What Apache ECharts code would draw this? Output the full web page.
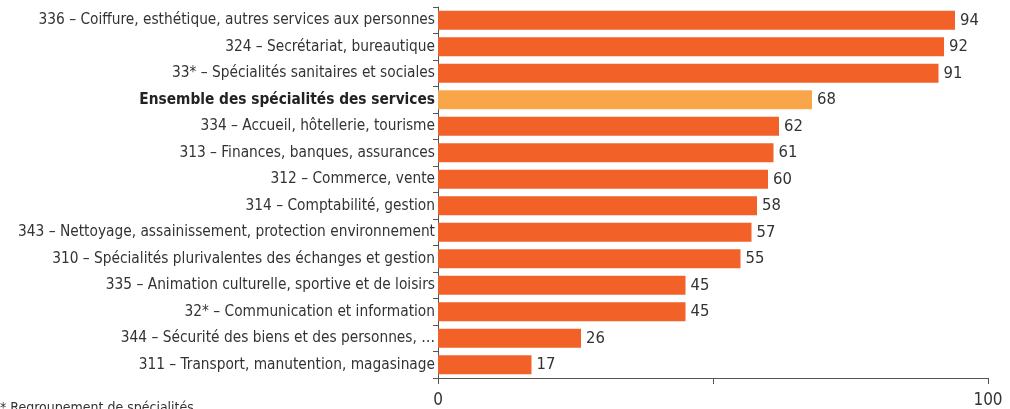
<!DOCTYPE html>
<html>
<head>
<meta charset="utf-8">
<script src="https://cdn.jsdelivr.net/npm/echarts@6/dist/echarts.min.js"></script>
<style>
  html, body { margin: 0; padding: 0; background: #fff; }
  #chart { width: 1010px; height: 409px; }
</style>
</head>
<body>
<div id="chart"></div>
<script>
// Specialty groups, listed top to bottom
const categories = [
  "336 – Coiffure, esthétique, autres services aux personnes",
  "324 – Secrétariat, bureautique",
  "33* – Spécialités sanitaires et sociales",
  "Ensemble des spécialités des services",
  "334 – Accueil, hôtellerie, tourisme",
  "313 – Finances, banques, assurances",
  "312 – Commerce, vente",
  "314 – Comptabilité, gestion",
  "343 – Nettoyage, assainissement, protection environnement",
  "310 – Spécialités plurivalentes des échanges et gestion",
  "335 – Animation culturelle, sportive et de loisirs",
  "32* – Communication et information",
  "344 – Sécurité des biens et des personnes, …",
  "311 – Transport, manutention, magasinage"
];
const values = [94, 92, 91, 68, 62, 61, 60, 58, 57, 55, 45, 45, 26, 17];
const totalLabel = "Ensemble des spécialités des services";
const xTickLabels = { 0: "0", 100: "100" };
const footnote = "* Regroupement de spécialités";

const FONT = '"DejaVu Sans Condensed", "Liberation Sans Narrow", sans-serif';
const TEXT = '#333333';
const AXIS = '#555555';

// y category axis runs bottom-up, so reverse to keep the list order top-down
const cats = categories.slice().reverse();
const vals = values.slice().reverse();

const chart = echarts.init(document.getElementById('chart'), null, { renderer: 'canvas' });
chart.setOption({
  animation: false,
  grid: { left: 438, right: 22, top: 7, bottom: 31, containLabel: false, outerBoundsMode: 'none' },
  xAxis: {
    type: 'value', min: 0, max: 100, interval: 50,
    axisLine: { show: true, lineStyle: { color: AXIS, width: 1 } },
    axisTick: { show: true, length: 6, lineStyle: { color: AXIS } },
    splitLine: { show: false },
    axisLabel: {
      color: TEXT, fontFamily: FONT, fontSize: 17, margin: 14,
      formatter: v => xTickLabels[v] !== undefined ? xTickLabels[v] : ''
    }
  },
  yAxis: {
    type: 'category', data: cats,
    axisLine: { show: true, lineStyle: { color: AXIS, width: 1 } },
    axisTick: { show: true, length: 5, lineStyle: { color: AXIS } },
    axisLabel: {
      color: TEXT, fontFamily: FONT, fontSize: 15.3, margin: 3,
      formatter: v => v === totalLabel ? '{b|' + v + '}' : v,
      rich: { b: { fontFamily: FONT, fontSize: 15.3, fontWeight: 'bold', color: '#222' } }
    }
  },
  series: [{
    type: 'bar',
    data: vals.map((v, i) => ({
      value: v,
      itemStyle: { color: cats[i] === totalLabel ? '#F9A64A' : '#F26228' }
    })),
    barWidth: '72%',
    label: {
      show: true, position: 'right', distance: 5,
      color: TEXT, fontFamily: FONT, fontSize: 16.5
    }
  }],
  graphic: [{
    type: 'text', left: 0, top: 401,
    style: { text: footnote, fill: TEXT, font: '14px ' + FONT }
  }]
});
</script>
</body>
</html>
